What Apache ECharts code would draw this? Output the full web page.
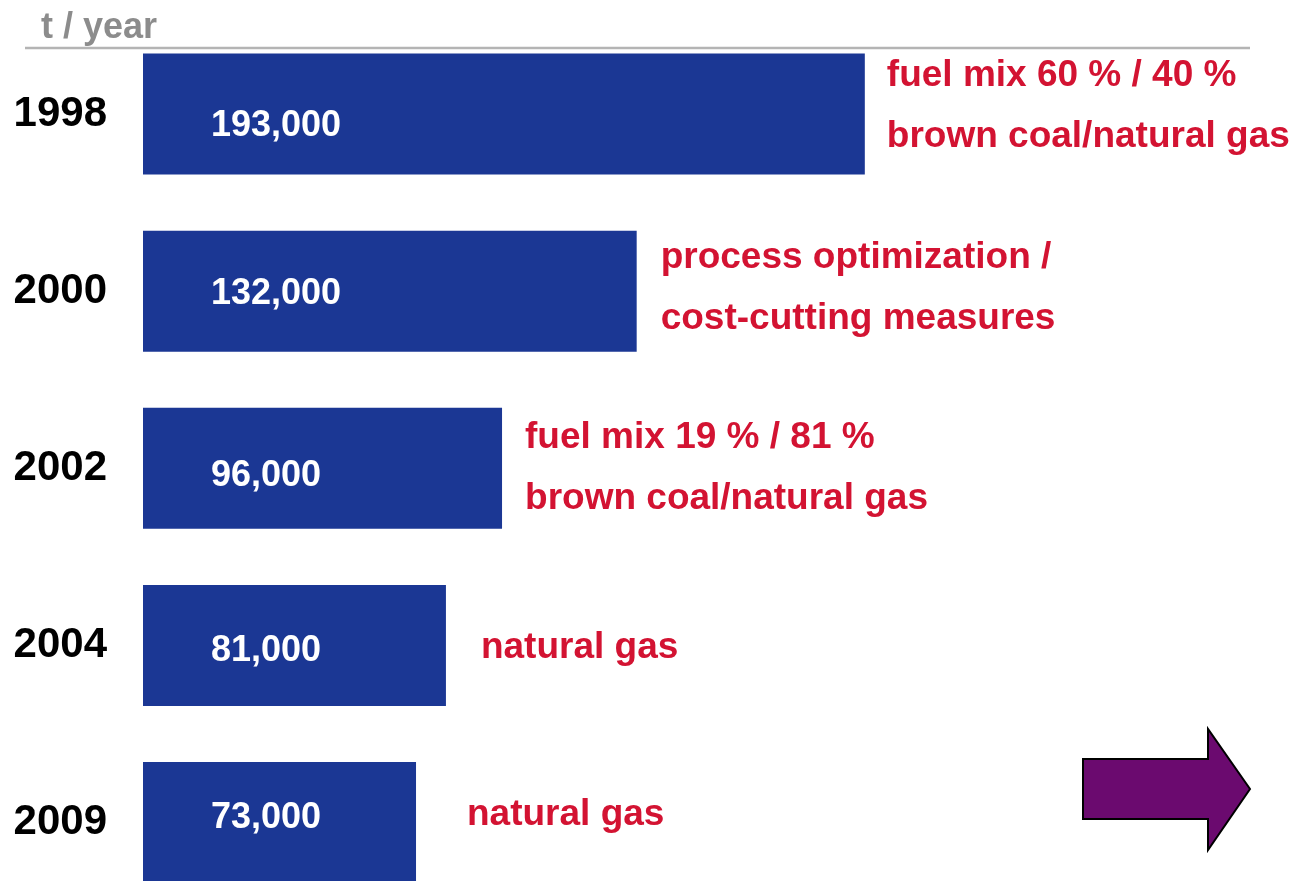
<!DOCTYPE html>
<html>
<head>
<meta charset="utf-8">
<script src="https://cdn.jsdelivr.net/npm/echarts@6/dist/echarts.min.js"></script>
<style>
  html, body { margin: 0; padding: 0; background: #fff; }
  #chart { width: 1309px; height: 881px; }
</style>
</head>
<body>
<div id="chart"></div>
<script>
// emissions per year (t / year)
const years = ['1998', '2000', '2002', '2004', '2009'];
const emissions = [193000, 132000, 96000, 81000, 73000];
const notes = [
  'fuel mix 60 % / 40 %\nbrown coal/natural gas',
  'process optimization /\ncost-cutting measures',
  'fuel mix 19 % / 81 %\nbrown coal/natural gas',
  'natural gas',
  'natural gas'
];

// small per-row layout nudges (gap from bar end, vertical shifts)
const noteGap = [22, 24, 23, 35, 51];
const noteShift = [-8, -3, 0.5, 2, -8];
const valueShift = [12, 3, 8, 6, -4];

const BLUE = '#1b3794';
const RED = '#d31332';
const FONT = "'Liberation Sans', Arial, Helvetica, sans-serif";

const chart = echarts.init(document.getElementById('chart'), null, { renderer: 'canvas' });

chart.setOption({
  backgroundColor: '#fff',
  animation: false,
  title: {
    text: 't / year',
    left: 36,
    top: 5,
    textStyle: { color: '#8c8c8c', fontSize: 36, fontWeight: 'bold', fontFamily: FONT }
  },
  // bars sit on the category ticks (boundaryGap false): first at y=114, last at y=822.5
  grid: { left: 143, top: 114, width: 1122, bottom: 58.5, containLabel: false },
  xAxis: {
    type: 'value',
    min: 0,
    max: 300000,
    show: false
  },
  yAxis: {
    type: 'category',
    inverse: true,
    boundaryGap: false,
    data: years,
    axisLine: { show: false },
    axisTick: { show: false },
    splitLine: { show: false },
    axisLabel: {
      margin: 36,
      color: '#000',
      fontSize: 42,
      fontWeight: 'bold',
      fontFamily: FONT
    }
  },
  graphic: [
    {
      type: 'line',
      shape: { x1: 25, y1: 48, x2: 1250, y2: 48 },
      style: { stroke: '#b4b4b4', lineWidth: 2.5 },
      z: 10
    },
    {
      type: 'polygon',
      shape: {
        points: [
          [1083, 759], [1208, 759], [1208, 729], [1250, 789],
          [1208, 850], [1208, 819], [1083, 819]
        ]
      },
      style: { fill: '#6b0a6f', stroke: '#000', lineWidth: 2 },
      z: 10
    }
  ],
  series: [
    {
      type: 'bar',
      data: emissions.map((v, i) => ({
        value: v,
        label: { offset: [0, valueShift[i]] }
      })),
      barWidth: 121,
      itemStyle: { color: BLUE },
      label: {
        show: true,
        position: [68, '50%'],
        align: 'left',
        verticalAlign: 'middle',
        color: '#fff',
        fontSize: 36,
        fontWeight: 'bold',
        fontFamily: FONT,
        formatter: p => p.value.toLocaleString('en-US')
      },
      silent: true
    },
    {
      type: 'bar',
      barGap: '-100%',
      barWidth: 121,
      data: emissions.map((v, i) => ({
        value: v,
        label: { distance: noteGap[i], offset: [0, noteShift[i]] }
      })),
      itemStyle: { color: 'transparent' },
      label: {
        show: true,
        position: 'right',
        align: 'left',
        verticalAlign: 'middle',
        color: RED,
        fontSize: 37,
        lineHeight: 61,
        fontWeight: 'bold',
        fontFamily: FONT,
        formatter: p => notes[p.dataIndex]
      },
      silent: true
    }
  ]
});
</script>
</body>
</html>
